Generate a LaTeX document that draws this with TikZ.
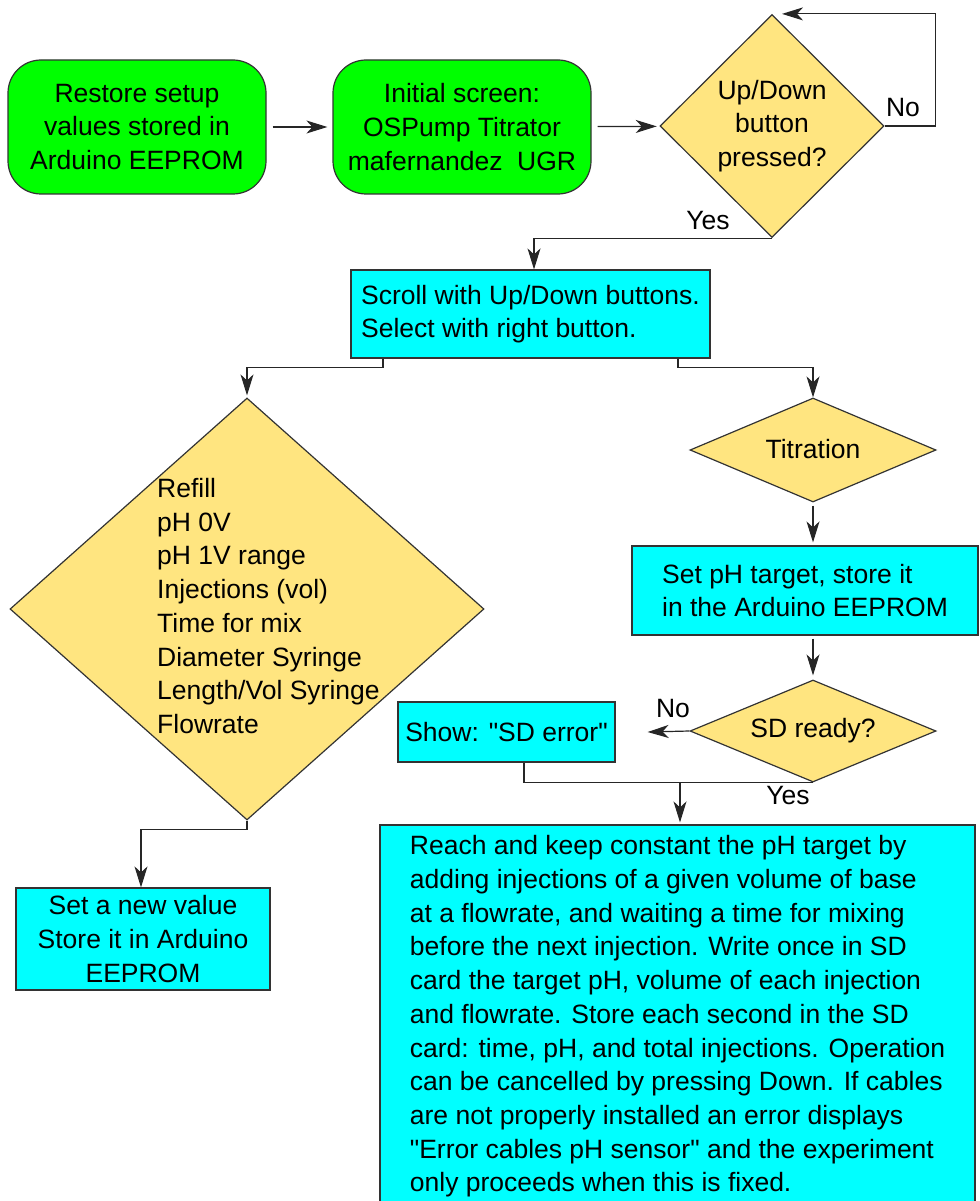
\documentclass[tikz,border=0pt]{standalone}
\usepackage{fontspec}
\setmainfont{Liberation Sans}[Ligatures=TeXOff]
\usetikzlibrary{shapes.geometric,arrows.meta}

\definecolor{startgreen}{RGB}{0,255,0}
\definecolor{stepcyan}{RGB}{0,255,255}
\definecolor{askgold}{RGB}{255,229,128}

\tikzset{
  boxbase/.style={draw=black!80, line width=1.2pt, inner sep=0pt,
    font=\fontsize{26.5}{33.7}\selectfont},
  startbox/.style={boxbase, fill=startgreen, rounded corners=33pt, align=center},
  stepbox/.style={boxbase, fill=stepcyan, align=left},
  askbox/.style={boxbase, fill=askgold, diamond, align=center},
  answer/.style={inner sep=0pt, font=\fontsize{26.5}{33.7}\selectfont},
  flow/.style={draw=black!85, line width=1.2pt,
    -{Stealth[length=21pt,width=13pt,inset=6pt]}},
  link/.style={draw=black!85, line width=1.2pt},
}

\begin{document}
\begin{tikzpicture}[x=1pt,y=-1pt]
  \useasboundingbox (0,0) rectangle (979,1201);

  \node[startbox, minimum width=258pt, minimum height=134pt] (Restore) at (137,127) {Restore setup\\values stored in\\Arduino EEPROM};
  \node[startbox, minimum width=258pt, minimum height=134pt] (Init) at (462,127) {Initial screen:\\OSPump Titrator\\mafernandez\ \ UGR};
  \node[askbox, minimum width=224pt, minimum height=223pt] (Ask) at (772,126) {Up/Down\\button\\pressed?};

  \node[stepbox, minimum width=359pt, minimum height=88pt] (Scroll) at (530.5,314) {Scroll with Up/Down buttons.\\Select with right button.};

  \node[askbox, minimum width=474pt, minimum height=422pt] (Menu) at (247,609) {};
  \node[answer, align=left, anchor=west] (MenuList) at (157,606) {Refill\\pH 0V\\pH 1V range\\Injections (vol)\\Time for mix\\Diameter Syringe\\Length/Vol Syringe\\Flowrate};
  \node[stepbox, align=center, minimum width=254pt, minimum height=102pt] (NewVal) at (143,939) {Set a new value\\Store it in Arduino\\EEPROM};

  \node[askbox, aspect=2.4, minimum width=246pt, minimum height=104pt] (Titr) at (813,450) {\raisebox{3pt}{Titration}};
  \node[stepbox, minimum width=346pt, minimum height=89pt] (SetPH) at (805,590.5) {Set pH target, store it\\in the Arduino EEPROM};
  \node[askbox, aspect=2.4, minimum width=246pt, minimum height=102pt] (SD) at (813,731) {SD ready?};
  \node[stepbox, minimum width=217pt, minimum height=60pt] (Show) at (506.5,732) {Show: "SD error"};
  \node[stepbox, minimum width=595pt, minimum height=383pt] (Reach) at (677.5,1016.5) {Reach and keep constant the pH target by\\adding injections of a given volume of base\\at a flowrate, and waiting a time for mixing\\before the next injection. Write once in SD\\card the target pH, volume of each injection\\and flowrate. Store each second in the SD\\card: time, pH, and total injections. Operation\\can be cancelled by pressing Down. If cables\\are not properly installed an error displays\\"Error cables pH sensor" and the experiment\\only proceeds when this is fixed.};

  \node[answer] (NoAsk) at (903,108) {No};
  \node[answer] (YesAsk) at (708,221) {Yes};
  \node[answer] (NoSD) at (673,709) {No};
  \node[answer] (YesSD) at (788,796) {Yes};

  \draw[flow, shorten <=6pt, shorten >=5pt] (Restore) -- (Init);
  \draw[flow, shorten <=6pt, shorten >=3pt] (Init) -- (Ask);
  \draw[flow] (Ask.east) -- ++(51,0) |- ([xshift=10pt]Ask.north);
  \draw[flow] (Ask.south) -| ([xshift=3.5pt]Scroll.north);

  \draw[flow, shorten >=2pt] ([xshift=-147.5pt]Scroll.south) -- ++(0,9) -| (Menu.north);
  \draw[flow] ([xshift=147.5pt]Scroll.south) -- ++(0,9) -| (Titr.north);
  \draw[flow] (Menu.south) -- ++(0,9) -| ([xshift=-2pt]NewVal.north);

  \draw[flow, shorten <=3pt, shorten >=3pt] (Titr.south) -- (Titr.south |- SetPH.north);
  \draw[flow, shorten <=3pt, shorten >=4pt] (SD.north |- SetPH.south) -- (SD.north);
  \draw[flow] (SD.west) -- ([xshift=32pt]Show.east);
  \draw[link] ([xshift=17.5pt]Show.south) |- (SD.south);
  \coordinate (Join) at (680,782);
  \draw[flow, shorten >=2pt] (Join) -- (Join |- Reach.north);
\end{tikzpicture}
\end{document}
